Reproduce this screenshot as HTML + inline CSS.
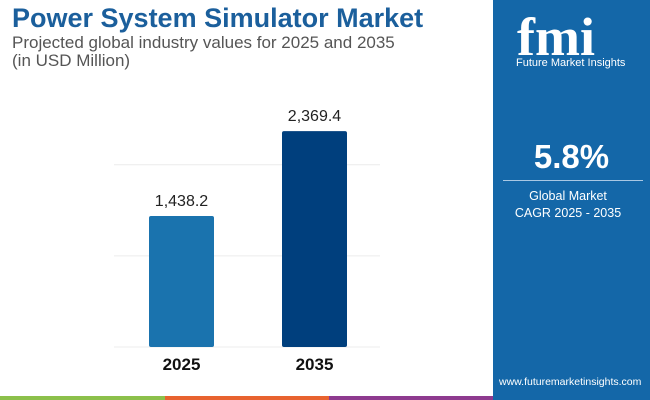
<!DOCTYPE html>
<html><head><meta charset="utf-8"><style>
body{margin:0;width:650px;height:400px;overflow:hidden;background:#fff;font-family:"Liberation Sans",sans-serif;position:relative}
.t{position:absolute;white-space:nowrap}
</style></head><body>
<div class="t" style="left:12px;top:3px;font-size:27px;font-weight:bold;color:#1b5f9c">Power System Simulator Market</div>
<div class="t" style="left:12px;top:34px;font-size:17px;color:#555;line-height:18px">Projected global industry values for 2025 and 2035<br>(in USD Million)</div>
<svg id="chart" width="493" height="400" style="position:absolute;left:0;top:0"></svg>
<div style="position:absolute;left:493px;top:0;width:157px;height:400px;background:#1467a8">
 <div class="t" style="left:24px;top:6px;font-size:54px;font-weight:bold;color:#fff;font-family:'Liberation Serif',serif">fmi</div>
 <div class="t" style="left:23px;top:57px;font-size:11px;color:#fff">Future Market Insights</div>
 <div class="t" style="left:0;width:157px;text-align:center;top:138px;font-size:33px;font-weight:bold;color:#fff">5.8%</div>
 <div style="position:absolute;left:10px;top:180px;width:140px;height:1px;background:#a9c8e4"></div>
 <div class="t" style="left:0;width:150px;text-align:center;top:188px;font-size:12.5px;color:#fff;line-height:17px">Global Market<br>CAGR 2025 - 2035</div>
 <div class="t" style="left:6px;top:376px;font-size:10.5px;color:#fff">www.futuremarketinsights.com</div>
</div>
<div style="position:absolute;left:0;top:396px;width:165px;height:4px;background:#8cc04b"></div>
<div style="position:absolute;left:165px;top:396px;width:164px;height:4px;background:#e8632f"></div>
<div style="position:absolute;left:329px;top:396px;width:164px;height:4px;background:#8e3a8f"></div>
<script>
const categories=["2025","2035"];
const values=[1438.2,2369.4];
const labels=["1,438.2","2,369.4"];
const gridTicks=[0,1000,2000];
const colors=["#1a73ae","#003f7d"];
const svg=document.getElementById('chart');
const NS="http://www.w3.org/2000/svg";
const y=v=>347-v*0.0911;
const xc=i=>181.5+i*133;
gridTicks.forEach(t=>{const l=document.createElementNS(NS,'line');
l.setAttribute('x1',114);l.setAttribute('x2',380);l.setAttribute('y1',y(t));l.setAttribute('y2',y(t));
l.setAttribute('stroke','#ececec');l.setAttribute('stroke-width',1);


svg.appendChild(l);});
categories.forEach((c,i)=>{
const r=document.createElementNS(NS,'rect');
r.setAttribute('x',xc(i)-32.5);r.setAttribute('width',65);r.setAttribute('y',y(values[i]));r.setAttribute('height',347-y(values[i]));
r.setAttribute('rx',2);r.setAttribute('fill',colors[i]);


svg.appendChild(r);
const v=document.createElementNS(NS,'text');
v.setAttribute('x',xc(i));v.setAttribute('y',y(values[i])-10);v.setAttribute('text-anchor','middle');
v.setAttribute('font-size','16');v.setAttribute('fill','#222');v.textContent=labels[i];


svg.appendChild(v);
const t=document.createElementNS(NS,'text');
t.setAttribute('x',xc(i));t.setAttribute('y',370);t.setAttribute('text-anchor','middle');
t.setAttribute('font-size','17');t.setAttribute('font-weight','bold');t.setAttribute('fill','#111');t.textContent=c;


svg.appendChild(t);
});
</script>
</body></html>
